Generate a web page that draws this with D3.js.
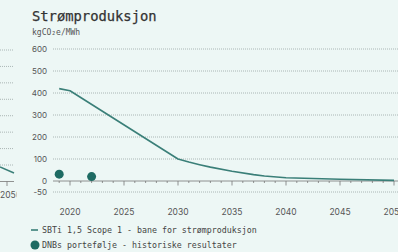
<!DOCTYPE html>
<html><head><meta charset="utf-8">
<script src="https://cdn.jsdelivr.net/npm/d3@7"></script>
<style>
html,body{margin:0;padding:0;background:#edf7f5;}
svg{display:block;}
</style></head>
<body>
<script>
const title = "Strømproduksjon";
const unit = "kgCO₂e/MWh";
const pathYears = [2019, 2020, 2030, 2031, 2032, 2033, 2035, 2037, 2038, 2040, 2045, 2050];
const pathValues = [420, 410, 100, 86, 74, 63, 44, 29, 23, 15, 8, 3];
const histYears = [2019, 2022];
const histValues = [31, 20];
const yTicks = [600, 500, 400, 300, 200, 100, -50];
const xTickLabels = [2020, 2025, 2030, 2035, 2040, 2045, 2050];
const legendLabels = ["SBTi 1,5 Scope 1 - bane for strømproduksjon", "DNBs portefølje - historiske resultater"];
// neighbouring (cropped) panel
const leftGrid = [0,1,2,3,4,5,6,7];
const leftLabel = "2050";

const W = 398, H = 252;
const mono = "'DejaVu Sans Mono', 'Liberation Mono', monospace";
const sans = "Inter, 'Open Sans', sans-serif";
const teal = "#3a7f78", dotC = "#1e6b63";

const svg = d3.select("body").append("svg").attr("width", W).attr("height", H);
svg.append("rect").attr("width", W).attr("height", H).attr("fill", "#edf7f5");

const x = d3.scaleLinear().domain([2020, 2050]).range([70, 394]);
const y = d3.scaleLinear().domain([0, 600]).range([181, 49]);

// left cropped panel
const lg = svg.append("g");
const ly = d3.scaleLinear().domain([0, 7]).range([50, 165]);
lg.selectAll("line.g").data(leftGrid).join("line")
  .attr("x1", 0).attr("x2", 14).attr("y1", d => ly(d)).attr("y2", d => ly(d))
  .attr("stroke", "#9aa6a4").attr("stroke-width", 0.8).attr("stroke-dasharray", "1,1");
lg.append("line").attr("x1", 0).attr("x2", 14).attr("y1", 167).attr("y2", 173)
  .attr("stroke", teal).attr("stroke-width", 1.5);
lg.append("line").attr("x1", 0).attr("x2", 14).attr("y1", 181.5).attr("y2", 181.5)
  .attr("stroke", "#777").attr("stroke-width", 0.8);
lg.append("line").attr("x1", 7).attr("x2", 7).attr("y1", 181.5).attr("y2", 186)
  .attr("stroke", "#777").attr("stroke-width", 0.8);
svg.append("clipPath").attr("id", "lc").append("rect").attr("x", 0).attr("y", 0).attr("width", 16.5).attr("height", H);
lg.append("text").attr("x", 0).attr("y", 198).attr("clip-path", "url(#lc)")
  .attr("font-family", sans).attr("font-size", 8.5).attr("fill", "#555").text(leftLabel);

// title
svg.append("text").attr("x", 32).attr("y", 21).attr("font-family", mono)
  .attr("font-size", 13.8).attr("fill", "#333").attr("stroke", "#333").attr("stroke-width", 0.25).text(title);
svg.append("text").attr("x", 32).attr("y", 35).attr("font-family", mono)
  .attr("font-size", 8).attr("fill", "#555").text(unit);

// gridlines
svg.append("g").selectAll("line").data(yTicks).join("line")
  .attr("x1", 53).attr("x2", W).attr("y1", d => y(d)).attr("y2", d => y(d))
  .attr("stroke", "#9aa6a4").attr("stroke-width", 0.8).attr("stroke-dasharray", "1,1");
// y labels
svg.append("g").selectAll("text").data(yTicks.concat([0])).join("text")
  .attr("x", 47).attr("y", d => y(d) + 3).attr("text-anchor", "end")
  .attr("font-family", sans).attr("font-size", 8).attr("fill", "#555").text(d => d);

// x axis
const minorYears = d3.range(2019, 2051);
const ax = svg.append("g").attr("transform", `translate(0,${y(0)})`);
ax.append("line").attr("x1", 53).attr("x2", W).attr("stroke", "#777").attr("stroke-width", 0.8);
ax.selectAll("line.t").data(minorYears).join("line").attr("class", "t")
  .attr("x1", d => x(d)).attr("x2", d => x(d)).attr("y1", 0)
  .attr("y2", d => d % 5 === 0 ? 4.5 : 2)
  .attr("stroke", "#777").attr("stroke-width", 0.8);
svg.append("g").selectAll("text").data(xTickLabels).join("text")
  .attr("x", d => x(d)).attr("y", 215).attr("text-anchor", "middle")
  .attr("font-family", sans).attr("font-size", 8.5).attr("fill", "#555").text(d => d);

// pathway line
const line = d3.line().x((d, i) => x(pathYears[i])).y(d => y(d));
svg.append("path").attr("d", line(pathValues)).attr("fill", "none")
  .attr("stroke", teal).attr("stroke-width", 1.6).attr("stroke-linejoin", "round");

// historical dots
svg.append("g").selectAll("circle").data(histValues).join("circle")
  .attr("cx", (d, i) => x(histYears[i])).attr("cy", d => y(d)).attr("r", 4.5).attr("fill", dotC);

// legend
svg.append("line").attr("x1", 31).attr("x2", 38).attr("y1", 230).attr("y2", 230)
  .attr("stroke", teal).attr("stroke-width", 1.6);
svg.append("circle").attr("cx", 35).attr("cy", 245).attr("r", 4.5).attr("fill", dotC);
svg.append("g").selectAll("text").data(legendLabels).join("text")
  .attr("x", 42).attr("y", (d, i) => 232.5 + i * 15)
  .attr("font-family", mono).attr("font-size", 8.3).attr("fill", "#444").text(d => d);
</script>
</body></html>
